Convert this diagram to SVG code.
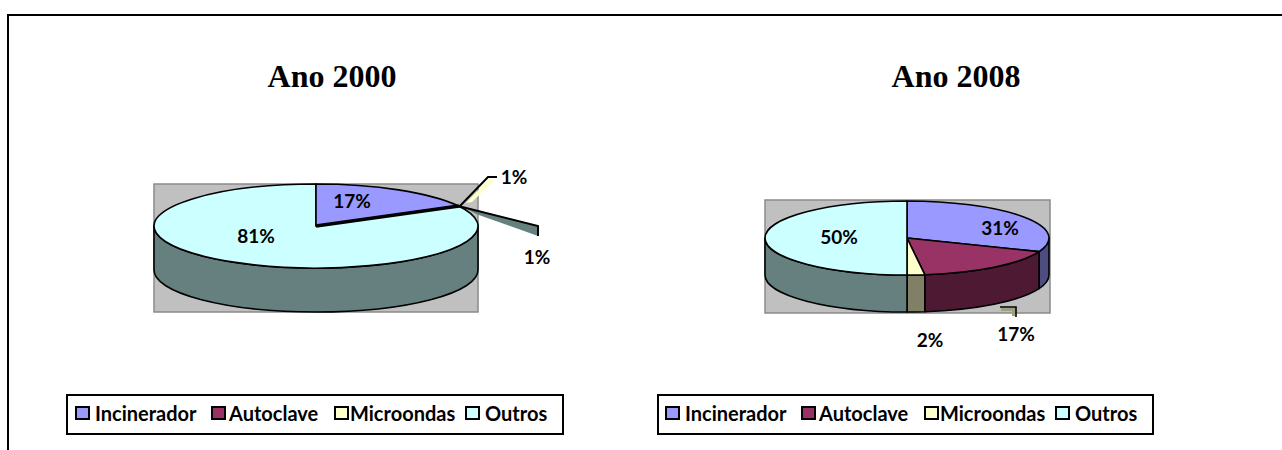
<svg xmlns="http://www.w3.org/2000/svg" width="1282" height="450" viewBox="0 0 1282 450">
<style>
.title{font-family:"Liberation Serif",serif;font-weight:bold;font-size:32px;fill:#000;text-anchor:middle}
.lbl{font-family:Lato,"Liberation Sans",sans-serif;font-weight:bold;font-size:19px;fill:#000;text-anchor:middle}
.leg{font-family:Lato,"Liberation Sans",sans-serif;font-weight:bold;font-size:20px;fill:#000}
.edge{stroke:#000;stroke-width:1.6;stroke-linejoin:round}
.plot{fill:#C0C0C0;stroke:#8a8a8a;stroke-width:1.5}
.box{fill:#fff;stroke:#000;stroke-width:2}
.sw{stroke:#000;stroke-width:2}
</style>
<rect width="1282" height="450" fill="#fff"/>
<path d="M8,450 L8,15 L1282,15" fill="none" stroke="#000" stroke-width="2"/>

<g id="chart2000">
<text class="title" x="332" y="87">Ano 2000</text>
<rect class="plot" x="154" y="184" width="324" height="128"/>
<path class="edge" fill="#668080" d="M478,226 A162,42 0 0 1 154,226 L154,270 A162,42 0 0 0 478,270 Z"/>
<path class="edge" fill="#CCFFFF" d="M316,226 L457.96,205.76 A162,42 0 1 1 316,184 Z"/>
<path class="edge" fill="#9999FF" d="M316,226 L316,184 A162,42 0 0 1 457.96,205.76 Z"/>
<line x1="316" y1="226" x2="459" y2="206" stroke="#000" stroke-width="3.5"/>
<polygon points="462,206 538,226 538,236 476,214" fill="#668080"/>
<polyline points="458,206 538,226 538,236" fill="none" stroke="#000" stroke-width="2"/>
<polygon points="466,203 489,179 496,179 472,202" fill="#FFFFCC"/>
<polyline points="459,207 488,177 497,177" fill="none" stroke="#000" stroke-width="2"/>
<text class="lbl" x="352" y="208">17%</text>
<text class="lbl" x="256" y="243">81%</text>
<text class="lbl" x="514" y="184">1%</text>
<text class="lbl" x="537" y="264">1%</text>
</g>

<g id="chart2008">
<text class="title" x="956" y="87">Ano 2008</text>
<rect class="plot" x="765" y="200" width="285" height="113"/>
<path class="edge" fill="#4d4d80" d="M1049,238 A142,37 0 0 1 1039.03,251.62 L1039.03,288.62 A142,37 0 0 0 1049,275 Z"/>
<path class="edge" fill="#4d1933" d="M1039.03,251.62 A142,37 0 0 1 924.8,274.71 L924.8,311.71 A142,37 0 0 0 1039.03,288.62 Z"/>
<path class="edge" fill="#808066" d="M924.8,274.71 A142,37 0 0 1 907,275 L907,312 A142,37 0 0 0 924.8,311.71 Z"/>
<path class="edge" fill="#668080" d="M907,275 A142,37 0 0 1 765,238 L765,275 A142,37 0 0 0 907,312 Z"/>
<path class="edge" fill="#9999FF" d="M907,238 L907,201 A142,37 0 0 1 1039.03,251.62 Z"/>
<path class="edge" fill="#993366" d="M907,238 L1039.03,251.62 A142,37 0 0 1 924.8,274.71 Z"/>
<path class="edge" fill="#FFFFCC" d="M907,238 L924.8,274.71 A142,37 0 0 1 907,275 Z"/>
<path class="edge" fill="#CCFFFF" d="M907,238 L907,275 A142,37 0 0 1 907,201 Z"/>
<polygon points="1001,308 1015,308 1015,316 1012,316 1012,311 1001,311" fill="#a0a080"/>
<polyline points="1000,307 1016,307 1016,317" fill="none" stroke="#000" stroke-width="1.6"/>
<text class="lbl" x="1000" y="235">31%</text>
<text class="lbl" x="839" y="244">50%</text>
<text class="lbl" x="930" y="347">2%</text>
<text class="lbl" x="1016" y="341">17%</text>
</g>

<g id="legend2000">
<rect class="box" x="67" y="395" width="496" height="39"/>
<rect class="sw" x="76" y="407" width="13" height="12" fill="#9999FF"/>
<text class="leg" x="95" y="421">Incinerador</text>
<rect class="sw" x="212" y="407" width="13" height="12" fill="#993366"/>
<text class="leg" x="229" y="421">Autoclave</text>
<rect class="sw" x="335" y="407" width="13" height="12" fill="#FFFFCC"/>
<text class="leg" x="350" y="421">Microondas</text>
<rect class="sw" x="466" y="407" width="13" height="12" fill="#CCFFFF"/>
<text class="leg" x="485" y="421">Outros</text>
</g>

<g id="legend2008">
<rect class="box" x="658" y="395" width="495" height="39"/>
<rect class="sw" x="666" y="407" width="13" height="12" fill="#9999FF"/>
<text class="leg" x="685" y="421">Incinerador</text>
<rect class="sw" x="802" y="407" width="13" height="12" fill="#993366"/>
<text class="leg" x="819" y="421">Autoclave</text>
<rect class="sw" x="925" y="407" width="13" height="12" fill="#FFFFCC"/>
<text class="leg" x="940" y="421">Microondas</text>
<rect class="sw" x="1056" y="407" width="13" height="12" fill="#CCFFFF"/>
<text class="leg" x="1075" y="421">Outros</text>
</g>
</svg>
